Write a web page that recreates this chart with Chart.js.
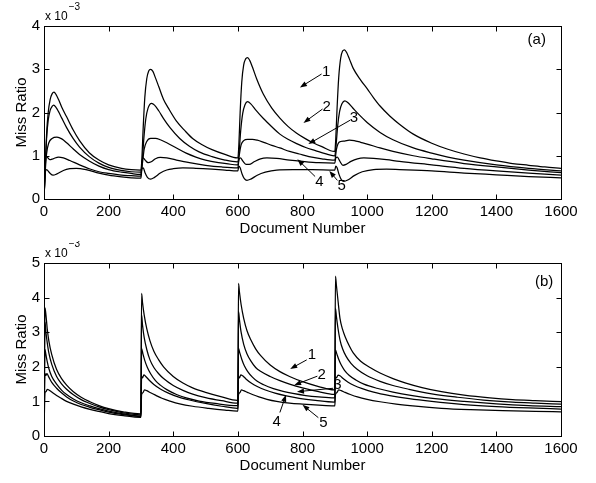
<!DOCTYPE html>
<html>
<head>
<meta charset="utf-8">
<script src="https://cdn.jsdelivr.net/npm/chart.js@4.4.1/dist/chart.umd.min.js"></script>
<style>
  html, body { margin: 0; padding: 0; background: #fff; }
  canvas { position: absolute; left: 0; }
  #chartA { top: 0; }
  #chartB { top: 241px; }
</style>
</head>
<body>
<canvas id="chartA" width="596" height="241"></canvas>
<canvas id="chartB" width="596" height="242"></canvas>
<script>
// tick labels
const docTicks = [0, 200, 400, 600, 800, 1000, 1200, 1400, 1600];
const ratioTicksA = [0, 1, 2, 3, 4];
const ratioTicksB = [0, 1, 2, 3, 4, 5];

// panel (a): [document number, miss ratio x 1e-3]
const missA1 = [[0,0],[4,0.8],[8,1.5],[13,2.0],[19,2.3],[25,2.43],[31,2.47],[37,2.42],[45,2.3],[55,2.12],[70,1.9],[90,1.6],[110,1.35],[140,1.07],[170,0.9],[200,0.79],[240,0.71],[270,0.68],[298,0.67],
  [300,0.67],[303,0.95],[307,1.65],[312,2.35],[318,2.78],[324,2.96],[330,3.0],[337,2.95],[345,2.8],[355,2.6],[370,2.3],[385,2.1],[410,1.8],[436,1.58],[460,1.4],[488,1.26],[520,1.14],[560,1.03],[598,0.95],
  [600,0.95],[603,1.25],[607,2.0],[612,2.7],[618,3.1],[624,3.24],[630,3.27],[637,3.2],[645,3.05],[658,2.78],[679,2.42],[705,2.1],[730,1.87],[755,1.68],[782,1.52],[810,1.39],[833,1.3],[860,1.21],[898,1.1],
  [900,1.1],[903,1.4],[907,2.1],[912,2.8],[918,3.25],[924,3.42],[930,3.45],[937,3.38],[945,3.24],[957,3.02],[980,2.75],[1000,2.55],[1020,2.34],[1040,2.15],[1070,1.92],[1100,1.73],[1143,1.5],[1200,1.29],[1250,1.15],[1300,1.04],[1350,0.95],[1400,0.88],[1450,0.82],[1500,0.78],[1550,0.74],[1600,0.71]];
const missA2 = [[0,0],[4,0.75],[8,1.4],[13,1.82],[19,2.05],[25,2.14],[30,2.17],[37,2.12],[45,2.02],[55,1.87],[70,1.65],[90,1.4],[110,1.2],[140,0.98],[170,0.83],[200,0.73],[240,0.66],[270,0.63],[298,0.62],
  [300,0.62],[304,0.85],[309,1.4],[315,1.85],[322,2.1],[333,2.21],[342,2.17],[355,2.04],[370,1.86],[390,1.65],[420,1.4],[450,1.22],[480,1.09],[520,0.98],[560,0.9],[598,0.86],
  [600,0.86],[604,1.1],[609,1.6],[615,1.98],[622,2.18],[630,2.25],[640,2.2],[655,2.06],[679,1.86],[705,1.67],[730,1.5],[755,1.38],[782,1.28],[810,1.19],[840,1.12],[870,1.05],[898,1.0],
  [900,1.0],[904,1.25],[909,1.7],[915,2.03],[922,2.2],[931,2.27],[940,2.23],[955,2.11],[975,1.95],[1000,1.77],[1040,1.54],[1080,1.37],[1143,1.18],[1200,1.06],[1250,0.97],[1300,0.9],[1400,0.79],[1500,0.71],[1600,0.65]];
const missA3 = [[0,0],[4,0.65],[8,1.05],[15,1.3],[25,1.4],[40,1.43],[55,1.39],[70,1.3],[90,1.16],[110,1.03],[140,0.88],[170,0.76],[200,0.68],[240,0.62],[270,0.59],[298,0.57],
  [300,0.57],[305,0.85],[310,1.15],[318,1.33],[330,1.4],[345,1.4],[360,1.37],[380,1.3],[410,1.18],[440,1.06],[470,0.97],[500,0.9],[540,0.84],[570,0.81],[598,0.79],
  [600,0.79],[605,1.05],[610,1.25],[618,1.35],[630,1.38],[645,1.38],[660,1.36],[680,1.31],[705,1.24],[730,1.18],[760,1.1],[790,1.04],[820,0.98],[860,0.93],[898,0.9],
  [900,0.9],[905,1.15],[910,1.28],[918,1.33],[930,1.34],[945,1.36],[960,1.35],[980,1.31],[1000,1.27],[1040,1.18],[1080,1.1],[1143,1.0],[1200,0.93],[1300,0.82],[1400,0.74],[1500,0.67],[1600,0.61]];
const missA4 = [[0,0],[3,0.8],[6,1.0],[10,0.97],[18,0.91],[28,0.93],[45,0.97],[60,0.95],[80,0.89],[110,0.79],[140,0.7],[170,0.63],[200,0.59],[240,0.55],[270,0.54],[298,0.53],
  [300,0.53],[303,0.85],[307,0.95],[313,0.9],[322,0.84],[332,0.86],[345,0.93],[360,0.96],[380,0.95],[410,0.9],[450,0.84],[500,0.78],[550,0.74],[598,0.72],
  [600,0.72],[603,0.9],[608,0.95],[615,0.88],[625,0.8],[635,0.8],[650,0.86],[670,0.93],[690,0.95],[720,0.94],[760,0.9],[800,0.87],[850,0.84],[898,0.83],
  [900,0.83],[903,0.95],[908,0.97],[915,0.88],[925,0.78],[935,0.8],[950,0.87],[970,0.93],[990,0.95],[1020,0.94],[1060,0.91],[1100,0.87],[1200,0.79],[1300,0.71],[1400,0.65],[1500,0.6],[1600,0.55]];
const missA5 = [[0,0],[3,0.5],[6,0.68],[10,0.67],[18,0.6],[28,0.55],[40,0.58],[60,0.66],[80,0.7],[100,0.71],[130,0.68],[170,0.6],[200,0.55],[240,0.51],[270,0.49],[298,0.48],
  [300,0.48],[303,0.7],[307,0.72],[313,0.6],[320,0.5],[330,0.46],[342,0.5],[360,0.6],[380,0.67],[400,0.7],[430,0.72],[470,0.71],[520,0.69],[560,0.67],[598,0.65],
  [600,0.65],[603,0.76],[607,0.72],[613,0.58],[620,0.47],[628,0.43],[640,0.46],[660,0.55],[685,0.62],[720,0.67],[770,0.68],[830,0.68],[898,0.67],
  [900,0.67],[903,0.76],[907,0.72],[913,0.57],[920,0.45],[928,0.41],[940,0.44],[960,0.54],[985,0.63],[1020,0.68],[1060,0.69],[1100,0.68],[1200,0.65],[1300,0.6],[1400,0.56],[1500,0.52],[1600,0.49]];

// panel (b)
const missB1 = [[0,0],[3,3.7],[6,3.5],[10,3.1],[15,2.75],[24,2.35],[39,1.92],[55,1.65],[70,1.47],[91,1.28],[115,1.12],[142,0.99],[170,0.88],[200,0.79],[245,0.7],[298,0.64],
  [300,0.64],[302,4.12],[305,3.85],[310,3.5],[318,3.1],[328,2.75],[340,2.45],[355,2.2],[370,2.0],[400,1.72],[430,1.53],[460,1.39],[500,1.26],[550,1.13],[598,1.03],
  [600,1.03],[602,4.41],[605,4.15],[610,3.8],[618,3.4],[628,3.05],[640,2.78],[655,2.52],[670,2.33],[700,2.05],[730,1.86],[760,1.72],[800,1.57],[850,1.43],[898,1.33],
  [900,1.33],[902,4.62],[905,4.35],[910,3.9],[916,3.4],[924,3.08],[932,2.87],[945,2.6],[957,2.4],[980,2.16],[1009,1.98],[1040,1.82],[1080,1.66],[1120,1.53],[1170,1.4],[1230,1.28],[1300,1.18],[1380,1.1],[1450,1.05],[1520,1.02],[1600,0.99]];
const missB2 = [[0,0],[3,3.3],[6,3.0],[10,2.7],[15,2.4],[24,2.07],[39,1.72],[55,1.5],[70,1.35],[91,1.19],[115,1.05],[142,0.94],[170,0.84],[200,0.76],[245,0.67],[298,0.61],
  [300,0.61],[302,3.5],[305,3.2],[310,2.85],[318,2.5],[328,2.2],[340,1.98],[355,1.8],[370,1.66],[400,1.46],[430,1.32],[460,1.21],[500,1.11],[550,1.02],[598,0.95],
  [600,0.95],[602,3.6],[605,3.35],[610,3.0],[618,2.65],[628,2.38],[640,2.17],[655,1.98],[670,1.87],[700,1.72],[730,1.6],[760,1.5],[800,1.39],[850,1.28],[898,1.2],
  [900,1.2],[902,3.69],[905,3.45],[910,3.1],[916,2.78],[924,2.52],[935,2.3],[950,2.1],[970,1.92],[1000,1.74],[1040,1.58],[1080,1.46],[1130,1.35],[1200,1.22],[1280,1.12],[1360,1.04],[1450,0.98],[1520,0.95],[1600,0.92]];
const missB3 = [[0,0],[3,2.5],[6,2.35],[10,2.15],[15,1.95],[24,1.72],[39,1.5],[55,1.32],[70,1.2],[91,1.07],[115,0.96],[142,0.87],[170,0.79],[200,0.72],[245,0.64],[298,0.58],
  [300,0.58],[302,2.53],[306,2.38],[312,2.18],[320,1.98],[330,1.8],[345,1.6],[360,1.47],[380,1.34],[410,1.2],[440,1.1],[480,1.01],[530,0.94],[598,0.88],
  [600,0.88],[602,2.53],[606,2.4],[612,2.22],[620,2.03],[630,1.87],[645,1.7],[660,1.58],[680,1.48],[710,1.37],[740,1.29],[770,1.23],[810,1.17],[850,1.13],[898,1.1],
  [900,1.1],[902,2.49],[906,2.38],[912,2.22],[920,2.05],[930,1.9],[945,1.75],[965,1.62],[990,1.5],[1030,1.38],[1080,1.27],[1140,1.17],[1210,1.08],[1300,1.0],[1400,0.93],[1500,0.88],[1600,0.85]];
const missB4 = [[0,0],[3,1.8],[6,1.75],[9,1.8],[15,1.7],[24,1.55],[39,1.38],[55,1.24],[70,1.13],[91,1.01],[115,0.91],[142,0.83],[170,0.76],[200,0.69],[245,0.62],[298,0.56],
  [300,0.56],[302,1.72],[305,1.68],[309,1.77],[315,1.72],[325,1.62],[340,1.49],[360,1.36],[385,1.24],[415,1.13],[450,1.04],[500,0.94],[550,0.86],[598,0.8],
  [600,0.8],[602,1.72],[605,1.68],[609,1.77],[615,1.74],[625,1.65],[640,1.54],[660,1.43],[685,1.33],[715,1.24],[750,1.16],[790,1.09],[840,1.03],[898,0.98],
  [900,0.98],[902,1.7],[905,1.68],[910,1.76],[916,1.74],[926,1.66],[940,1.56],[960,1.46],[985,1.37],[1020,1.27],[1070,1.17],[1130,1.08],[1200,1.0],[1300,0.91],[1400,0.85],[1500,0.81],[1600,0.78]];
const missB5 = [[0,0],[3,1.25],[6,1.28],[10,1.35],[15,1.33],[24,1.27],[39,1.17],[55,1.08],[70,1.0],[91,0.92],[115,0.84],[142,0.77],[170,0.71],[200,0.65],[245,0.59],[298,0.54],
  [300,0.54],[302,1.2],[306,1.25],[311,1.33],[318,1.31],[330,1.25],[345,1.18],[365,1.09],[390,1.01],[420,0.93],[460,0.86],[510,0.8],[560,0.75],[598,0.72],
  [600,0.72],[602,1.2],[606,1.25],[611,1.33],[618,1.31],[630,1.26],[645,1.2],[665,1.13],[690,1.06],[720,1.0],[760,0.95],[800,0.92],[850,0.89],[898,0.87],
  [900,0.87],[902,1.2],[906,1.25],[912,1.33],[920,1.31],[932,1.26],[948,1.2],[970,1.13],[1000,1.06],[1040,0.99],[1090,0.92],[1150,0.86],[1230,0.8],[1320,0.76],[1420,0.73],[1520,0.71],[1600,0.7]];

// curve labels with arrows: label point, arrow tail, arrow tip (data coords)
const notesA = [
  { text: '1', at: [873, 2.95], from: [859, 2.89], to: [792, 2.58] },
  { text: '2', at: [875, 2.13], from: [862, 2.08], to: [803, 1.76] },
  { text: '3', at: [959, 1.87], from: [947, 1.82], to: [818, 1.27] },
  { text: '4', at: [852, 0.4], from: [839, 0.52], to: [784, 0.92] },
  { text: '5', at: [921, 0.31], from: [908, 0.43], to: [883, 0.65] }
];
const notesB = [
  { text: '1', at: [829, 2.34], from: [813, 2.2], to: [762, 1.94] },
  { text: '2', at: [859, 1.78], from: [846, 1.73], to: [774, 1.47] },
  { text: '3', at: [908, 1.47], from: [895, 1.38], to: [783, 1.28] },
  { text: '4', at: [720, 0.41], from: [730, 0.68], to: [749, 1.19] },
  { text: '5', at: [865, 0.39], from: [849, 0.53], to: [800, 0.9] }
];

Chart.defaults.font.family = '"Liberation Sans", Arial, Helvetica, sans-serif';
Chart.defaults.font.size = 15;
Chart.defaults.color = '#000';

const matlabFrame = {
  id: 'matlabFrame',
  afterDraw(chart, args, opts) {
    const { ctx, chartArea: a, scales: { x, y } } = chart;
    const L = Math.round(a.left) + 0.5, R = Math.round(a.right) + 0.5;
    const T = Math.round(a.top) + 0.5, B = Math.round(a.bottom) + 0.5;
    ctx.save();
    ctx.strokeStyle = '#000';
    ctx.lineWidth = 1;
    ctx.strokeRect(L, T, R - L, B - T);
    ctx.beginPath();
    x.ticks.forEach(t => {
      const px = Math.round(x.getPixelForValue(t.value)) + 0.5;
      ctx.moveTo(px, B); ctx.lineTo(px, B - 5);
      ctx.moveTo(px, T); ctx.lineTo(px, T + 5);
    });
    y.ticks.forEach(t => {
      const py = Math.round(y.getPixelForValue(t.value)) + 0.5;
      ctx.moveTo(L, py); ctx.lineTo(L + 5, py);
      ctx.moveTo(R, py); ctx.lineTo(R - 5, py);
    });
    ctx.stroke();

    // exponent above the y axis
    ctx.fillStyle = '#000';
    ctx.textBaseline = 'alphabetic';
    ctx.textAlign = 'left';
    ctx.font = '12px "Liberation Sans", Arial, sans-serif';
    ctx.fillText('x 10', a.left + 1, a.top - 6);
    const w = ctx.measureText('x 10').width;
    ctx.font = '10px "Liberation Sans", Arial, sans-serif';
    ctx.fillText('\u22123', a.left + 2 + w, a.top - 16);

    // arrows and curve numbers
    ctx.font = '15px "Liberation Sans", Arial, sans-serif';
    ctx.textAlign = 'center';
    ctx.textBaseline = 'middle';
    opts.notes.forEach(n => {
      const x0 = x.getPixelForValue(n.from[0]), y0 = y.getPixelForValue(n.from[1]);
      const x1 = x.getPixelForValue(n.to[0]), y1 = y.getPixelForValue(n.to[1]);
      const ang = Math.atan2(y1 - y0, x1 - x0);
      ctx.beginPath();
      ctx.moveTo(x0, y0);
      ctx.lineTo(x1 - 5 * Math.cos(ang), y1 - 5 * Math.sin(ang));
      ctx.stroke();
      ctx.beginPath();
      ctx.moveTo(x1, y1);
      ctx.lineTo(x1 - 7 * Math.cos(ang) + 2.6 * Math.sin(ang), y1 - 7 * Math.sin(ang) - 2.6 * Math.cos(ang));
      ctx.lineTo(x1 - 7 * Math.cos(ang) - 2.6 * Math.sin(ang), y1 - 7 * Math.sin(ang) + 2.6 * Math.cos(ang));
      ctx.closePath();
      ctx.fill();
      ctx.fillText(n.text, x.getPixelForValue(n.at[0]), y.getPixelForValue(n.at[1]));
    });
    ctx.fillText(opts.panel.text, x.getPixelForValue(opts.panel.at[0]), y.getPixelForValue(opts.panel.at[1]));
    ctx.restore();
  }
};

function makeChart(id, curves, yTicks, notes, panel, padTop, xAxisH, xTitlePad) {
  const datasets = curves.map(c => ({
    data: c.map(([doc, miss]) => ({ x: doc, y: miss })),
    borderColor: '#000',
    borderWidth: 1.25,
    pointRadius: 0,
    fill: false,
    cubicInterpolationMode: 'monotone'
  }));
  return new Chart(document.getElementById(id), {
    type: 'line',
    data: { datasets },
    plugins: [matlabFrame],
    options: {
      responsive: false,
      animation: false,
      events: [],
      layout: { padding: { top: padTop, right: 35, left: 0, bottom: 0 } },
      plugins: {
        legend: { display: false },
        tooltip: { enabled: false },
        matlabFrame: { notes, panel }
      },
      scales: {
        x: {
          type: 'linear',
          min: docTicks[0],
          max: docTicks[docTicks.length - 1],
          grid: { display: false, drawTicks: false },
          border: { display: false },
          afterBuildTicks: s => { s.ticks = docTicks.map(v => ({ value: v })); },
          afterFit: s => { s.height = xAxisH; },
          ticks: { padding: 4, maxRotation: 0, autoSkip: false, callback: v => String(v) },
          title: { display: true, text: 'Document Number', padding: { top: 0, bottom: xTitlePad } }
        },
        y: {
          type: 'linear',
          min: yTicks[0],
          max: yTicks[yTicks.length - 1],
          grid: { display: false, drawTicks: false },
          border: { display: false },
          afterBuildTicks: s => { s.ticks = yTicks.map(v => ({ value: v })); },
          afterFit: s => { s.width = 44; },
          ticks: { padding: 4, callback: v => String(v) },
          title: { display: true, text: 'Miss Ratio', padding: { top: 13, bottom: 0 } }
        }
      }
    }
  });
}

makeChart('chartA', [missA1, missA2, missA3, missA4, missA5], ratioTicksA, notesA,
  { text: '(a)', at: [1525, 3.68] }, 26, 42, 3);
makeChart('chartB', [missB1, missB2, missB3, missB4, missB5], ratioTicksB, notesB,
  { text: '(b)', at: [1548, 4.46] }, 22, 47, 8);
</script>
</body>
</html>
